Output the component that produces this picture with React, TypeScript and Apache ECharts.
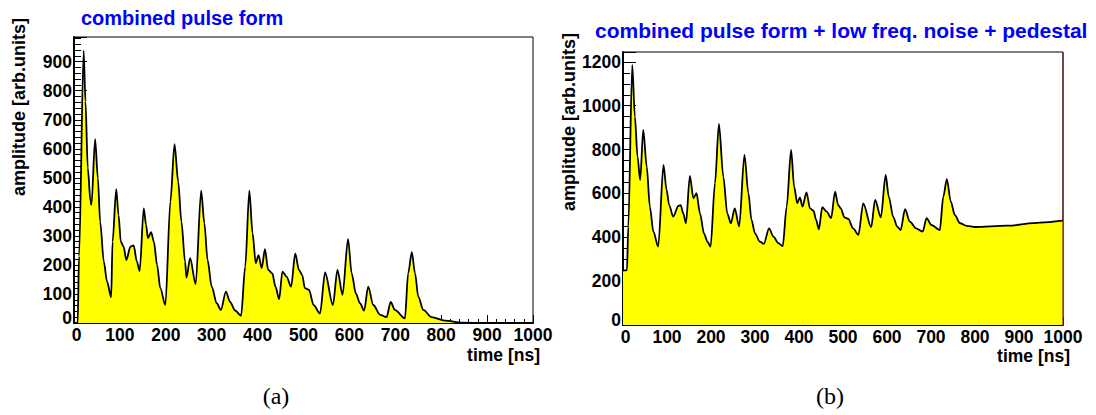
import React, { useEffect, useRef } from "react";
import * as echarts from "echarts";

// ---- data ----
const timeA = [0, 8, 11, 21, 25, 30, 36, 38, 46, 52, 57, 65, 72, 81, 84, 92, 97, 102, 108, 114, 123, 130, 137, 143, 152, 157, 161, 168, 174, 181, 188, 199, 210, 219, 227, 234, 242, 245, 253, 265, 277, 284, 291, 300, 311, 320, 331, 340, 351, 364, 373, 382, 389, 396, 402, 409, 416, 423, 432, 439, 447, 454, 463, 473, 482, 490, 497, 503, 512, 522, 536, 547, 564, 574, 585, 597, 605, 614, 623, 632, 641, 652, 667, 681, 690, 699, 721, 728, 736, 743, 750, 761, 779, 808, 845, 900, 1000];
const ampA = [0, 0, 230, 938, 763, 534, 418, 407, 633, 499, 349, 211, 142, 89, 280, 461, 372, 280, 263, 217, 263, 267, 211, 179, 395, 338, 292, 313, 280, 200, 120, 62, 418, 616, 487, 349, 211, 156, 223, 134, 456, 344, 217, 125, 68, 45, 108, 73, 43, 25, 194, 456, 309, 206, 234, 189, 254, 183, 171, 125, 82, 177, 160, 125, 240, 183, 166, 120, 114, 62, 33, 174, 62, 183, 97, 289, 171, 102, 68, 43, 125, 62, 28, 20, 73, 45, 16, 171, 244, 171, 91, 45, 20, 8, 1, 0, 0];

const timeB = [0, 9, 12, 21, 27, 33, 39, 46, 54, 61, 69, 80, 92, 99, 105, 114, 126, 131, 137, 143, 152, 160, 167, 175, 184, 192, 199, 209, 218, 228, 237, 245, 254, 264, 276, 285, 292, 300, 311, 320, 332, 342, 353, 363, 372, 382, 389, 396, 402, 408, 417, 425, 433, 439, 445, 453, 463, 473, 482, 489, 495, 503, 512, 523, 535, 546, 564, 573, 586, 597, 604, 614, 623, 631, 641, 652, 666, 681, 690, 701, 720, 728, 736, 745, 754, 766, 781, 800, 872, 948, 1000];
const ampB = [248, 250, 449, 1186, 950, 768, 661, 890, 722, 540, 426, 357, 730, 616, 547, 494, 543, 547, 509, 464, 680, 578, 601, 509, 418, 380, 357, 646, 917, 677, 509, 464, 532, 449, 776, 601, 479, 418, 380, 370, 441, 403, 373, 360, 540, 798, 631, 555, 582, 540, 605, 532, 521, 479, 436, 537, 517, 487, 608, 547, 532, 491, 484, 441, 411, 555, 446, 570, 491, 684, 585, 494, 449, 433, 528, 471, 441, 426, 487, 456, 433, 585, 665, 563, 502, 464, 452, 447, 453, 467, 476];

const xRange = [0, 1000];
const xStep = 100;
const yRangeA = [0, 985];
const yStepA = 100;
const yRangeB = [0, 1245];
const yStepB = 200;

const titleA = "combined pulse form";
const titleB = "combined pulse form + low freq. noise + pedestal";
const yTitle = "amplitude [arb.units]";
const xTitle = "time [ns]";
const panelLabels = ["(a)", "(b)"];

export default function App() {
  const ref = useRef<HTMLDivElement>(null);
  useEffect(() => {
    const chart = echarts.init(ref.current!, null, { renderer: "svg" });
    const font = "'Liberation Sans', Arial, Helvetica, sans-serif";
    const labelStyle = {
      color: "#000",
      fontWeight: "bold" as const,
      fontSize: 17.5,
      lineHeight: 12,
      fontFamily: font,
    };

    const mkX = (gi: number) => ({
      type: "value" as const,
      gridIndex: gi,
      min: xRange[0],
      max: xRange[1],
      interval: xStep,
      axisLine: { show: true, onZero: false, lineStyle: { color: "#000", width: 2 } },
      axisTick: { show: true, inside: true, length: 8, lineStyle: { color: "#000", width: 1 } },
      minorTick: { show: true, splitNumber: 5, length: 4, lineStyle: { color: "#000", width: 1 } },
      splitLine: { show: false },
      minorSplitLine: { show: false },
      axisLabel: {
        ...labelStyle,
        margin: 6,
        formatter: (v: number) => (v === 0 ? "{z|0}" : String(v)),
        rich: { z: { ...labelStyle, padding: [0, 0, 0, 5] } },
      },
    });
    const mkY = (gi: number, range: number[], step: number, minorSplit: number) => ({
      type: "value" as const,
      gridIndex: gi,
      min: range[0],
      max: range[1],
      interval: step,
      axisLine: { show: true, onZero: false, lineStyle: { color: "#000", width: 2 } },
      axisTick: { show: true, inside: true, length: 13, lineStyle: { color: "#000", width: 1 } },
      minorTick: { show: true, splitNumber: minorSplit, length: 7, lineStyle: { color: "#000", width: 1 } },
      splitLine: { show: false },
      minorSplitLine: { show: false },
      axisLabel: {
        ...labelStyle,
        margin: 2,
        showMaxLabel: false,
        formatter: (v: number) => (v === 0 ? "{z|0}" : String(v)),
        rich: { z: { ...labelStyle, padding: [0, 0, 10, 0] } },
      },
    });

    const textEl = (text: string, x: number, y: number, extra: any) => ({
      type: "text",
      x,
      y,
      style: { text, fontFamily: font, fontWeight: "bold", fill: "#000", ...extra },
    });

    const serif = "'Liberation Serif', 'Times New Roman', serif";

    chart.setOption({
      animation: false,
      backgroundColor: "#fff",
      grid: [
        { left: 74, top: 37, right: 563, bottom: 92, show: true, borderColor: "#000", borderWidth: 1, backgroundColor: "transparent" },
        { left: 623, top: 52, right: 33, bottom: 90, show: true, borderColor: "#000", borderWidth: 1, backgroundColor: "transparent" },
      ],
      xAxis: [mkX(0), mkX(1)],
      yAxis: [mkY(0, yRangeA, yStepA, 5), mkY(1, yRangeB, yStepB, 4)],
      series: [
        {
          type: "line",
          xAxisIndex: 0,
          yAxisIndex: 0,
          data: timeA.map((t, i) => [t, ampA[i]]),
          symbol: "none",
          smooth: 0.3,
          smoothMonotone: "x",
          lineStyle: { color: "#000", width: 1.8 },
          areaStyle: { color: "#ffff00", opacity: 1 },
          z: 1,
        },
        {
          type: "line",
          xAxisIndex: 1,
          yAxisIndex: 1,
          data: timeB.map((t, i) => [t, ampB[i]]),
          symbol: "none",
          smooth: 0.3,
          smoothMonotone: "x",
          lineStyle: { color: "#000", width: 1.8 },
          areaStyle: { color: "#ffff00", opacity: 1 },
          z: 1,
        },
      ],
      graphic: [
        textEl(titleA, 81, 18, { fill: "#0000ff", fontSize: 20, align: "left", verticalAlign: "middle" }),
        textEl(titleB, 595, 30, { fill: "#0000ff", fontSize: 21, align: "left", verticalAlign: "middle" }),
        { ...textEl(yTitle, 18.5, 18, { fontSize: 18, align: "right", verticalAlign: "middle" }), rotation: Math.PI / 2 },
        { ...textEl(yTitle, 569, 33, { fontSize: 18, align: "right", verticalAlign: "middle" }), rotation: Math.PI / 2 },
        textEl(xTitle, 540, 355, { fontSize: 17.5, align: "right", verticalAlign: "middle" }),
        textEl(xTitle, 1070, 356, { fontSize: 17.5, align: "right", verticalAlign: "middle" }),
        {
          type: "text",
          x: 276,
          y: 396,
          style: { text: panelLabels[0], fontFamily: serif, fontSize: 24, fill: "#000", align: "center", verticalAlign: "middle" },
        },
        {
          type: "text",
          x: 830,
          y: 396,
          style: { text: panelLabels[1], fontFamily: serif, fontSize: 24, fill: "#000", align: "center", verticalAlign: "middle" },
        },
        {
          type: "line",
          shape: { x1: 1063, y1: 52, x2: 1063, y2: 325 },
          style: { stroke: "#7a1f1f", lineWidth: 1.2 },
          z: 10,
        },
      ],
    });
    return () => chart.dispose();
  }, []);
  return <div ref={ref} style={{ position: "fixed", left: 0, top: 0, width: 1096, height: 415 }} />;
}
